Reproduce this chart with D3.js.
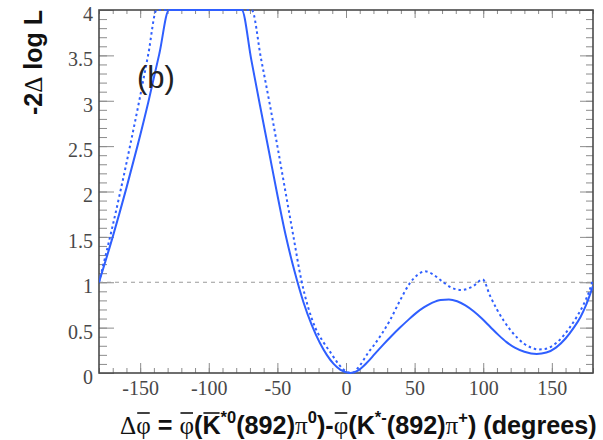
<!DOCTYPE html>
<html>
<head>
<meta charset="utf-8">
<script src="https://cdn.jsdelivr.net/npm/d3@7"></script>
<style>
  body { margin: 0; background: #fff; }
  svg { display: block; }
</style>
</head>
<body>
<div id="chart"></div>
<script>
'use strict';

// Likelihood scan: phi difference (degrees) vs -2 delta log L.
// Values above 4 are off the plot and shown along the top edge, so they are kept at 4.
// Solid curve
var solidPhi = [-180, -170, -160, -152, -144, -136, -129, -115, -100, -88, -76, -69, -62.7, -56, -50.5, -44, -37.5,
                -31, -25, -19, -14, -9, -4, 3, 9, 15, 21, 27, 33, 39, 45, 51, 57, 63, 69, 75, 81,
                87, 93, 99, 105, 111, 117, 123, 130, 139, 146, 153, 160, 166, 171, 175, 180];
var solidNll = [1.0, 1.5, 2.04, 2.5, 2.99, 3.52, 4.0, 4.0, 4.0, 4.0, 4.0, 3.45, 2.95, 2.43, 2.0, 1.52, 1.12,
                0.78, 0.53, 0.33, 0.2, 0.1, 0.035, 0.0, 0.03, 0.11, 0.21, 0.31, 0.405, 0.495, 0.58, 0.66, 0.725, 0.775, 0.805, 0.81, 0.79,
                0.745, 0.68, 0.6, 0.51, 0.42, 0.34, 0.28, 0.235, 0.21, 0.225, 0.28, 0.38, 0.5, 0.62, 0.75, 0.96];

// Dotted curve
var dottedPhi = [-180, -171, -164, -157, -150, -144, -138, -125, -105, -85, -68.7, -62, -55.4, -50, -44.5, -38.5, -32.5,
                 -27.5, -22.4, -16.5, -11, -7, -2, 4, 10, 16, 21, 26, 32, 39.4, 46.6, 52, 57.6, 63, 70, 77,
                 84, 92, 99.6, 105, 110, 115, 120, 125, 130, 135, 140, 145, 151, 157, 163, 168, 173, 177, 180];
var dottedNll = [1.0, 1.56, 2.03, 2.53, 3.05, 3.52, 4.0, 4.0, 4.0, 4.0, 4.0, 3.47, 2.95, 2.5, 2.03, 1.52, 1.02,
                 0.72, 0.5, 0.34, 0.22, 0.13, 0.04, 0.0, 0.08, 0.22, 0.32, 0.43, 0.58, 0.8, 0.99, 1.08, 1.12, 1.09, 1.01, 0.94,
                 0.915, 0.95, 1.03, 0.85, 0.7, 0.575, 0.47, 0.385, 0.32, 0.28, 0.26, 0.265, 0.305, 0.385, 0.5, 0.615, 0.75, 0.89, 1.03];

var xTickValues = [-150, -100, -50, 0, 50, 100, 150];
var xTickLabels = ["-150", "-100", "-50", "0", "50", "100", "150"];
var yTickValues = [0, 0.5, 1, 1.5, 2, 2.5, 3, 3.5, 4];
var yTickLabels = ["0", "0.5", "1", "1.5", "2", "2.5", "3", "3.5", "4"];
var refLevel = 1;

var W = 603, H = 440;
var frame = {left: 99, right: 593, top: 10, bottom: 373};
var plotW = frame.right - frame.left;
var plotH = frame.bottom - frame.top;
var lineColor = "#2f5fff";

var x = d3.scaleLinear().domain([-180, 180]).range([0, plotW]);
var y = d3.scaleLinear().domain([0, 4]).range([plotH, 0]).clamp(true);

var svg = d3.select("#chart").append("svg")
  .attr("width", W)
  .attr("height", H);

var g = svg.append("g")
  .attr("transform", "translate(" + frame.left + "," + frame.top + ")");

// minor tick positions (every 10 degrees, every 0.1 in y)
var xMinor = d3.range(-18, 19).map(function (i) { return i * 10; });
var yMinor = d3.range(0, 41).map(function (i) { return i / 10; });

function cleanAxis(sel) {
  sel.select(".domain").remove();
  sel.selectAll(".tick line").attr("stroke", "#8c8c8c").attr("stroke-width", 1);
  sel.selectAll(".tick text")
    .style("font-family", "'Liberation Serif', 'DejaVu Serif', serif")
    .style("font-size", "20px")
    .style("fill", "#484848");
}

// left
g.append("g").call(d3.axisLeft(y).tickValues(yMinor).tickSize(-8).tickSizeOuter(0).tickFormat("")).call(cleanAxis);
g.append("g").call(d3.axisLeft(y).tickValues(yTickValues).tickSize(-15).tickSizeOuter(0).tickPadding(6)
  .tickFormat(function (d) { return yTickLabels[yTickValues.indexOf(d)]; })).call(cleanAxis)
  .selectAll(".tick text").attr("dy", "0.52em"); // labels sit a little under their ticks

// right
g.append("g").attr("transform", "translate(" + plotW + ",0)")
  .call(d3.axisRight(y).tickValues(yMinor).tickSize(-7).tickSizeOuter(0).tickFormat("")).call(cleanAxis);
g.append("g").attr("transform", "translate(" + plotW + ",0)")
  .call(d3.axisRight(y).tickValues(yTickValues).tickSize(-13).tickSizeOuter(0).tickFormat("")).call(cleanAxis);

// bottom
g.append("g").attr("transform", "translate(0," + plotH + ")")
  .call(d3.axisBottom(x).tickValues(xMinor).tickSize(-5).tickSizeOuter(0).tickFormat("")).call(cleanAxis);
g.append("g").attr("transform", "translate(0," + plotH + ")")
  .call(d3.axisBottom(x).tickValues(xTickValues).tickSize(-10).tickSizeOuter(0).tickPadding(8)
    .tickFormat(function (d) { return xTickLabels[xTickValues.indexOf(d)]; })).call(cleanAxis);

// top
g.append("g").call(d3.axisTop(x).tickValues(xMinor).tickSize(-4).tickSizeOuter(0).tickFormat("")).call(cleanAxis);
g.append("g").call(d3.axisTop(x).tickValues(xTickValues).tickSize(-8).tickSizeOuter(0).tickFormat("")).call(cleanAxis);

// 1-sigma reference line
g.append("line")
  .attr("x1", x(-180)).attr("x2", x(180))
  .attr("y1", y(refLevel)).attr("y2", y(refLevel))
  .attr("stroke", "#9a9a9a")
  .attr("stroke-width", 1)
  .attr("stroke-dasharray", "4,4");

// frame
g.append("rect")
  .attr("width", plotW)
  .attr("height", plotH)
  .attr("fill", "none")
  .attr("stroke", "#4a4a4a")
  .attr("stroke-width", 1.6);

svg.append("clipPath").attr("id", "plotClip")
  .append("rect").attr("x", 0).attr("y", -1.5).attr("width", plotW).attr("height", plotH + 3);

// monotone so the flat stretch at the top stays flat
var line = d3.line()
  .x(function (d) { return x(d[0]); })
  .y(function (d) { return y(d[1]); })
  .curve(d3.curveMonotoneX);

var curves = g.append("g").attr("clip-path", "url(#plotClip)");

curves.append("path")
  .datum(d3.zip(dottedPhi, dottedNll))
  .attr("d", line)
  .attr("fill", "none")
  .attr("stroke", lineColor)
  .attr("stroke-width", 2)
  .attr("stroke-dasharray", "2.5,3");

curves.append("path")
  .datum(d3.zip(solidPhi, solidNll))
  .attr("d", line)
  .attr("fill", "none")
  .attr("stroke", lineColor)
  .attr("stroke-width", 2);

// panel label
svg.append("text")
  .attr("x", 137)
  .attr("y", 88)
  .style("font-family", "'Liberation Sans', Arial, sans-serif")
  .style("font-size", "31px")
  .style("fill", "#222")
  .text("(b)");

// y title
var yTitle = svg.append("text")
  .attr("transform", "translate(42," + frame.top + ") rotate(-90)")
  .attr("text-anchor", "end")
  .style("font-family", "'Liberation Sans', Arial, sans-serif")
  .style("font-size", "25px")
  .style("font-weight", "bold")
  .style("fill", "#111");
yTitle.append("tspan").text("-2");
yTitle.append("tspan").style("font-family", "'Liberation Serif', serif").style("font-weight", "normal").text("\u0394");
yTitle.append("tspan").text(" log L");

// x title, built piece by piece: [text, kind, overline]
var titleParts = [
  ["\u0394", "sym", false], ["\u03c6", "sym", true], [" = ", "txt", false], ["\u03c6", "sym", true],
  ["(", "txt", false], ["K", "txt", true], ["*0", "sup", false], ["(892)", "txt", false],
  ["\u03c0", "sym", false], ["0", "sup", false], [")-", "txt", false], ["\u03c6", "sym", true],
  ["(K", "txt", false], ["*-", "sup", false], ["(892)", "txt", false], ["\u03c0", "sym", false],
  ["+", "sup", false], [") (degrees)", "txt", false]
];

var titleBase = 434;
var xTitle = svg.append("text")
  .attr("x", 120)
  .attr("y", titleBase)
  .style("font-family", "'Liberation Sans', Arial, sans-serif")
  .style("font-size", "25.2px")
  .style("font-weight", "bold")
  .style("fill", "#111");

var prevSup = false;
var spans = titleParts.map(function (p) {
  var t = xTitle.append("tspan").text(p[0]);
  var dy = 0;
  if (p[1] === "sup" && !prevSup) dy = -11;
  if (p[1] !== "sup" && prevSup) dy = 11;
  if (dy) t.attr("dy", dy);
  if (p[1] === "sup") t.style("font-size", "16.5px");
  if (p[1] === "sym") t.style("font-family", "'Liberation Serif', serif").style("font-weight", "normal");
  prevSup = p[1] === "sup";
  return t;
});

spans.forEach(function (t, i) {
  if (!titleParts[i][2]) return;
  var b = t.node().getBBox();
  svg.append("line")
    .attr("x1", b.x + 1).attr("x2", b.x + b.width - 1)
    .attr("y1", titleBase - 21).attr("y2", titleBase - 21)
    .attr("stroke", "#111")
    .attr("stroke-width", 1.6);
});
</script>
</body>
</html>
